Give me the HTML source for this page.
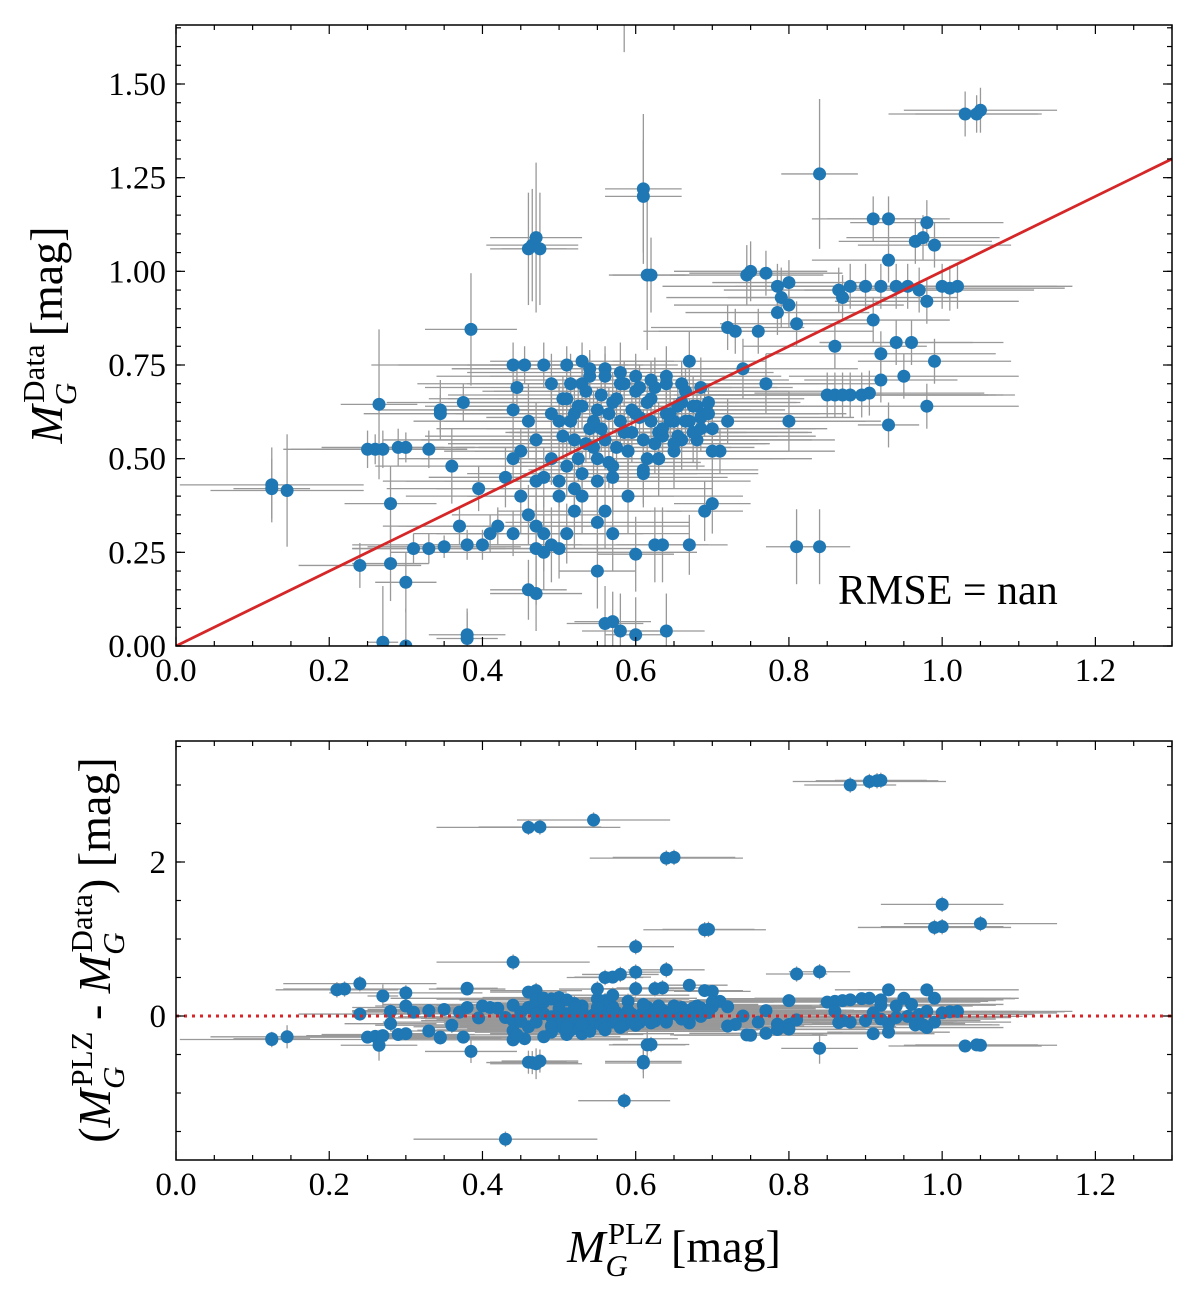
<!DOCTYPE html>
<html><head><meta charset="utf-8"><style>
html,body{margin:0;background:#fff;width:1200px;height:1303px;overflow:hidden;position:relative}
svg{display:block;font-family:"Liberation Serif",serif}
</style></head><body>
<svg id="c" width="1200" height="1303" viewBox="0 0 1200 1303"></svg>
<script>
const xs=[0.125,0.125,0.145,0.24,0.25,0.26,0.265,0.27,0.27,0.28,0.28,0.29,0.30,0.30,0.31,0.33,0.35,0.345,0.345,0.33,0.38,0.38,0.375,0.385,0.36,0.38,0.37,0.395,0.40,0.41,0.42,0.44,0.44,0.44,0.455,0.46,0.465,0.47,0.475,0.46,0.47,0.445,0.46,0.47,0.48,0.49,0.50,0.43,0.44,0.45,0.46,0.47,0.48,0.49,0.47,0.48,0.50,0.45,0.48,0.49,0.50,0.51,0.52,0.52,0.53,0.53,0.54,0.54,0.55,0.55,0.56,0.56,0.57,0.57,0.58,0.58,0.59,0.59,0.60,0.60,0.61,0.61,0.62,0.62,0.63,0.63,0.64,0.64,0.65,0.65,0.66,0.66,0.67,0.68,0.68,0.69,0.70,0.71,0.72,0.56,0.57,0.55,0.53,0.52,0.51,0.51,0.55,0.56,0.57,0.58,0.60,0.61,0.61,0.615,0.62,0.625,0.635,0.60,0.67,0.685,0.69,0.70,0.70,0.67,0.74,0.745,0.75,0.77,0.785,0.79,0.785,0.80,0.80,0.81,0.76,0.73,0.72,0.77,0.80,0.81,0.84,0.84,0.85,0.86,0.87,0.88,0.895,0.905,0.865,0.87,0.88,0.90,0.91,0.93,0.93,0.92,0.94,0.955,0.965,0.975,0.98,0.99,1.00,1.01,1.02,0.97,0.98,0.93,0.95,0.92,0.94,0.96,0.99,0.98,1.03,1.05,1.045,0.91,0.92,0.86,0.88,0.905,0.915,0.92,0.46,0.475,0.545,0.64,0.65,0.69,0.695,1.0,0.99,1.0,1.05,0.60,0.64,0.43,0.585,0.44,0.24,0.21,0.22,0.30,
0.505,0.515,0.525,0.535,0.545,0.555,0.565,0.575,0.585,0.595,0.605,0.615,0.625,0.635,0.645,0.655,0.665,0.675,0.685,0.695,0.505,0.515,0.525,0.535,0.545,0.555,0.565,0.575,0.585,0.595,0.605,0.615,0.625,0.635,0.645,0.655,0.665,0.675,0.685,0.695,0.53,0.55,0.57,0.59,0.61,0.63,0.65,0.54,0.56,0.58,0.60,0.62,0.64,0.66,0.49,0.51,0.53,0.47,0.50,0.52];
const ys=[0.43,0.42,0.415,0.215,0.525,0.525,0.645,0.525,0.01,0.22,0.38,0.53,0.53,0.17,0.26,0.26,0.265,0.63,0.62,0.525,0.02,0.03,0.65,0.845,0.48,0.27,0.32,0.42,0.27,0.30,0.32,0.30,0.63,0.75,0.75,1.06,1.07,1.09,1.06,0.15,0.14,0.69,0.60,0.55,0.75,0.70,0.60,0.45,0.50,0.40,0.35,0.32,0.30,0.27,0.26,0.25,0.26,0.52,0.45,0.50,0.44,0.48,0.55,0.62,0.70,0.76,0.72,0.58,0.50,0.63,0.74,0.55,0.65,0.45,0.60,0.70,0.52,0.40,0.62,0.68,0.55,0.47,0.60,0.66,0.50,0.57,0.62,0.70,0.52,0.60,0.65,0.55,0.60,0.55,0.64,0.62,0.58,0.52,0.60,0.36,0.30,0.33,0.40,0.36,0.30,0.75,0.20,0.06,0.065,0.04,0.03,1.22,1.20,0.99,0.99,0.27,0.27,0.245,0.76,0.69,0.36,0.38,0.52,0.27,0.74,0.99,1.0,0.995,0.96,0.93,0.89,0.91,0.97,0.86,0.84,0.84,0.85,0.70,0.60,0.265,0.265,1.26,0.67,0.67,0.67,0.67,0.67,0.675,0.95,0.93,0.96,0.96,1.14,1.14,1.03,0.96,0.96,0.96,1.08,1.09,1.13,1.07,0.96,0.955,0.96,0.95,0.92,0.59,0.72,0.78,0.81,0.81,0.76,0.64,1.42,1.43,1.42,0.87,0.71,0.80,-2.12,-2.14,-2.14,-2.14,-1.99,-1.98,-2.0,-1.41,-1.41,-0.43,-0.43,-0.45,-0.16,-0.16,-0.15,-0.30,0.04,2.03,1.685,-0.26,-0.18,-0.13,-0.13,0.0,
0.56,0.60,0.64,0.68,0.53,0.58,0.62,0.66,0.70,0.57,0.61,0.65,0.69,0.56,0.60,0.64,0.68,0.57,0.61,0.65,0.66,0.70,0.50,0.54,0.60,0.67,0.49,0.53,0.57,0.63,0.69,0.50,0.54,0.58,0.62,0.56,0.60,0.64,0.58,0.62,0.46,0.44,0.48,0.52,0.46,0.50,0.54,0.74,0.72,0.73,0.72,0.71,0.72,0.70,0.62,0.66,0.64,0.44,0.40,0.42];
const xerrs=[0.12,0.05,0.1,0.08,0.1,0.12,0.05,0.1,0.02,0.05,0.06,0.1,0.05,0.04,0.08,0.1,0.1,0.08,0.1,0.05,0.04,0.05,0.1,0.06,0.1,0.15,0.08,0.12,0.1,0.1,0.12,0.1,0.1,0.15,0.2,0.05,0.06,0.06,0.05,0.05,0.06,0.12,0.15,0.2,0.1,0.1,0.15,0.1,0.12,0.15,0.1,0.2,0.1,0.15,0.1,0.2,0.1,0.1,0.15,0.2,0.2,0.15,0.2,0.15,0.15,0.12,0.2,0.2,0.15,0.2,0.2,0.15,0.2,0.15,0.2,0.15,0.2,0.15,0.2,0.2,0.15,0.15,0.2,0.2,0.15,0.2,0.2,0.2,0.15,0.2,0.15,0.2,0.15,0.15,0.2,0.15,0.15,0.15,0.2,0.1,0.1,0.12,0.12,0.1,0.1,0.1,0.05,0.05,0.05,0.05,0.04,0.05,0.05,0.05,0.05,0.05,0.06,0.05,0.1,0.1,0.05,0.05,0.08,0.05,0.15,0.1,0.1,0.1,0.15,0.15,0.12,0.15,0.1,0.1,0.15,0.1,0.1,0.15,0.1,0.04,0.04,0.05,0.2,0.2,0.2,0.2,0.2,0.15,0.15,0.15,0.15,0.15,0.08,0.08,0.1,0.15,0.15,0.15,0.1,0.1,0.1,0.1,0.15,0.15,0.15,0.15,0.12,0.04,0.15,0.15,0.1,0.12,0.1,0.12,0.1,0.1,0.08,0.1,0.1,0.12,0.06,0.1,0.08,0.06,0.12,0.08,0.1,0.1,0.08,0.08,0.06,0.08,0.1,0.08,0.1,0.05,0.05,0.12,0.06,0.1,0.1,0.08,0.08,0.1,
0.18,0.15,0.2,0.12,0.18,0.15,0.2,0.12,0.18,0.15,0.2,0.12,0.18,0.15,0.2,0.12,0.18,0.15,0.2,0.12,0.15,0.2,0.12,0.18,0.15,0.2,0.12,0.18,0.15,0.2,0.12,0.18,0.15,0.2,0.12,0.18,0.15,0.2,0.12,0.18,0.15,0.2,0.12,0.18,0.15,0.2,0.12,0.18,0.15,0.2,0.12,0.18,0.15,0.2,0.12,0.18,0.15,0.2,0.12,0.18];
const yerrs=[0.1,0.08,0.15,0.06,0.05,0.04,0.2,0.05,0.15,0.1,0.1,0.05,0.04,0.08,0.04,0.04,0.03,0.08,0.05,0.05,0.08,0.06,0.05,0.15,0.1,0.04,0.05,0.06,0.04,0.05,0.05,0.06,0.08,0.06,0.05,0.15,0.15,0.2,0.15,0.08,0.1,0.06,0.1,0.1,0.06,0.08,0.1,0.08,0.06,0.1,0.08,0.06,0.1,0.1,0.15,0.1,0.08,0.06,0.08,0.07,0.07,0.08,0.08,0.08,0.06,0.05,0.06,0.08,0.08,0.06,0.06,0.08,0.08,0.1,0.08,0.06,0.1,0.1,0.06,0.08,0.08,0.1,0.06,0.06,0.1,0.08,0.06,0.06,0.1,0.06,0.08,0.08,0.06,0.08,0.06,0.06,0.08,0.06,0.06,0.1,0.1,0.08,0.1,0.1,0.08,0.05,0.1,0.1,0.08,0.1,0.1,0.2,0.15,0.2,0.1,0.1,0.1,0.1,0.08,0.08,0.08,0.08,0.06,0.08,0.08,0.08,0.08,0.06,0.06,0.08,0.06,0.06,0.06,0.06,0.06,0.06,0.06,0.08,0.08,0.1,0.1,0.2,0.06,0.06,0.06,0.06,0.06,0.06,0.06,0.06,0.06,0.06,0.06,0.06,0.06,0.06,0.06,0.06,0.06,0.06,0.06,0.06,0.06,0.06,0.06,0.06,0.06,0.06,0.06,0.06,0.06,0.06,0.06,0.06,0.06,0.06,0.05,0.06,0.06,0.06,0.1,0.1,0.1,0.1,0.1,0.1,0.1,0.1,0.1,0.1,0.1,0.1,0.1,0.1,0.1,0.1,0.1,0.1,0.1,0.1,0.1,0.1,0.1,0.1,
0.06,0.08,0.06,0.05,0.08,0.06,0.07,0.05,0.06,0.08,0.06,0.05,0.08,0.06,0.07,0.05,0.06,0.08,0.06,0.05,0.06,0.08,0.06,0.05,0.08,0.06,0.07,0.05,0.06,0.08,0.06,0.05,0.08,0.06,0.07,0.05,0.06,0.08,0.06,0.05,0.06,0.08,0.06,0.05,0.08,0.06,0.07,0.05,0.06,0.08,0.06,0.05,0.08,0.06,0.07,0.05,0.06,0.08,0.06,0.05];
const topXTicks=[0,0.2,0.4,0.6,0.8,1.0,1.2];
const topXLabels=["0.0","0.2","0.4","0.6","0.8","1.0","1.2"];
const topYTicks=[0,0.25,0.5,0.75,1.0,1.25,1.5];
const topYLabels=["0.00","0.25","0.50","0.75","1.00","1.25","1.50"];
const botYTicks=[0,2];
const botYLabels=["0","2"];

const NS="http://www.w3.org/2000/svg";
const svg=document.getElementById('c');
function mk(tag,attrs,parent){const e=document.createElementNS(NS,tag);for(const k in attrs)e.setAttribute(k,attrs[k]);(parent||svg).appendChild(e);return e;}
const L=176,R=1172;
const sx=v=>L+(v-0)/1.3*(R-L);
const T1=25,B1=646; const sy1=v=>646-v/1.5*(646-84);
const T2=741,B2=1160; const sy2=v=>1016-v*77;

function panel(name,T,B,sy,yMin,yMax,yMajor,yLabels,yMinorStep,drawFn){
  const g=mk('g',{});
  
  
  const cid='clip-'+name;
  const cp=mk('clipPath',{id:cid},g);mk('rect',{x:L,y:T,width:R-L,height:B-T},cp);
  const plot=mk('g',{'clip-path':'url(#'+cid+')'},g);
  
  
  drawFn(plot);
  const tk=mk('g',{stroke:'#000','stroke-width':1.2},g);
  
  
  for(let v=0;v<=1.3001;v+=0.05){
    const major=Math.abs(v/0.2-Math.round(v/0.2))<1e-6; const len=major?9:5; const x=sx(v);
    mk('line',{x1:x,x2:x,y1:B,y2:B-len},tk);mk('line',{x1:x,x2:x,y1:T,y2:T+len},tk);
  }
  for(let v=Math.ceil(yMin/yMinorStep)*yMinorStep;v<=yMax;v+=yMinorStep){
    const y=sy(v);if(y<T||y>B)continue;
    mk('line',{x1:L,x2:L+5,y1:y,y2:y},tk);mk('line',{x1:R,x2:R-5,y1:y,y2:y},tk);
  }
  yMajor.forEach((v,i)=>{const y=sy(v);
    mk('line',{x1:L,x2:L+9,y1:y,y2:y},tk);mk('line',{x1:R,x2:R-9,y1:y,y2:y},tk);
    const t=mk('text',{x:L-10,y:y+11,'text-anchor':'end','font-size':33,fill:'#000'},g);
    t.textContent=yLabels[i];
    
    
  });
  topXTicks.forEach((v,i)=>{
    const t=mk('text',{x:sx(v),y:B+35,'text-anchor':'middle','font-size':33,fill:'#000'},g);
    t.textContent=topXLabels[i];
    
    
  });
  const fr=mk('rect',{x:L,y:T,width:R-L,height:B-T,fill:'none',stroke:'#000','stroke-width':1.5},g);
  
  
}
function points(plot,sy,yOf){
  const eb=mk('g',{stroke:'#999','stroke-width':1.3},plot);
  
  
  const pts=mk('g',{fill:'#1f77b4'},plot);
  
  
  for(let i=0;i<xs.length;i++){
    const x=sx(xs[i]),y=sy(yOf(i));
    mk('line',{x1:sx(xs[i]-xerrs[i]),x2:sx(xs[i]+xerrs[i]),y1:y,y2:y},eb);
    mk('line',{x1:x,x2:x,y1:sy(yOf(i)-yerrs[i]),y2:sy(yOf(i)+yerrs[i])},eb);
  }
  for(let i=0;i<xs.length;i++){
    const c=mk('circle',{cx:sx(xs[i]),cy:sy(yOf(i)),r:6.5},pts);
    
    
  }
}
panel('top-panel',T1,B1,sy1,0,1.66,topYTicks,topYLabels,0.05,plot=>{
  points(plot,sy1,i=>ys[i]);
  const l=mk('line',{x1:sx(0),y1:sy1(0),x2:sx(1.3),y2:sy1(1.3),stroke:'#d62728','stroke-width':2.8},plot);
  
  
});
panel('bottom-panel',T2,B2,sy2,-1.87,3.57,botYTicks,botYLabels,0.5,plot=>{
  points(plot,sy2,i=>xs[i]-ys[i]);
  const l=mk('line',{x1:sx(0),y1:sy2(0),x2:sx(1.3),y2:sy2(0),stroke:'#d62728','stroke-width':3,'stroke-dasharray':'3,5'},plot);
  
  
});
</script>
<svg width="1200" height="1303" style="position:absolute;left:0;top:0">
  <text x="838" y="604" font-family="Liberation Serif,serif" font-size="42">RMSE = nan</text>
  <text transform="translate(62,335) rotate(-90)" text-anchor="middle" font-family="Liberation Serif,serif" font-size="46"><tspan font-style="italic">M</tspan><tspan font-size="31" font-style="italic" dy="14">G</tspan><tspan font-size="31" dx="-20" dy="-32">Data</tspan><tspan dy="18" dx="8">[mag]</tspan></text>
  <text transform="translate(110,950) rotate(-90)" text-anchor="middle" font-family="Liberation Serif,serif" font-size="46">(<tspan font-style="italic">M</tspan><tspan font-size="31" font-style="italic" dy="14">G</tspan><tspan font-size="31" dx="-20" dy="-32">PLZ</tspan><tspan dy="18"> - </tspan><tspan font-style="italic">M</tspan><tspan font-size="31" font-style="italic" dy="14">G</tspan><tspan font-size="31" dx="-20" dy="-32">Data</tspan><tspan dy="18">) [mag]</tspan></text>
  <text x="674" y="1262" text-anchor="middle" font-family="Liberation Serif,serif" font-size="46"><tspan font-style="italic">M</tspan><tspan font-size="31" font-style="italic" dy="14">G</tspan><tspan font-size="31" dx="-20" dy="-32">PLZ</tspan><tspan dy="18" dx="8">[mag]</tspan></text>
</svg>
</body></html>
